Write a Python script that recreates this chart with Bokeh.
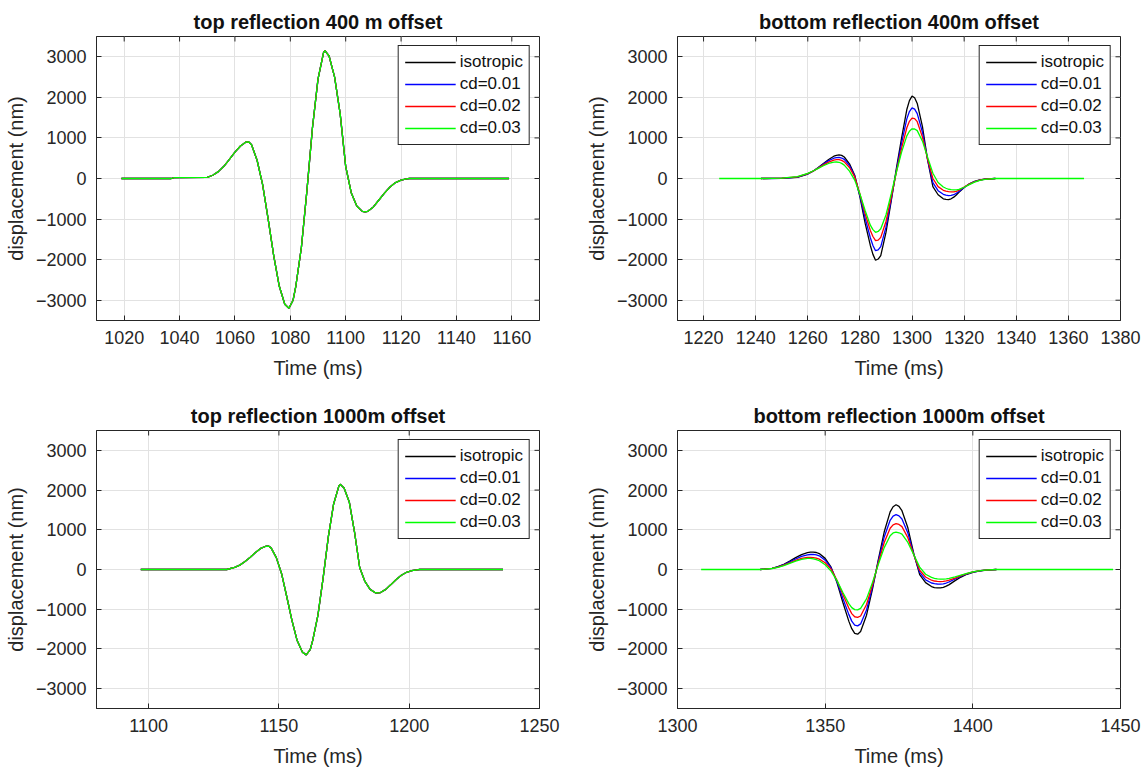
import math
from bokeh.plotting import figure
from bokeh.layouts import column, row
from bokeh.models import FixedTicker, Range1d, Legend, LegendItem
from bokeh.embed import file_html
from bokeh.resources import INLINE

# ---------------- data ----------------
series_labels = ["isotropic", "cd=0.01", "cd=0.02", "cd=0.03"]
series_colors = ["#000000", "#0000ff", "#ff0000", "#00ff00"]
y_ticks = [-3000, -2000, -1000, 0, 1000, 2000, 3000]
y_limits = [-3500, 3500]

# top reflection 400 m offset (all four traces coincide)
tl_title = "top reflection 400 m offset"
tl_xlim = [1010, 1170]
tl_xticks = [1020, 1040, 1060, 1080, 1100, 1120, 1140, 1160]
tl_time = [1019, 1037, 1038, 1050, 1052, 1054, 1056, 1058, 1060, 1062, 1064, 1065,
           1066, 1068, 1070, 1072, 1074, 1076, 1078, 1079.5, 1081, 1082, 1084, 1086,
           1088, 1090, 1092, 1092.5, 1094, 1096, 1098, 1100, 1102, 1104, 1106, 1107,
           1108, 1110, 1112, 1114, 1116, 1118, 1120, 1122, 1123, 1159]
tl_isotropic = [0, 0, 20, 30, 80, 170, 300, 470, 650, 800, 900, 900,
                830, 450, -150, -1000, -1900, -2650, -3100, -3200, -3000, -2650, -1700, -300,
                1250, 2450, 3100, 3150, 3020, 2500, 1600, 300, -350, -680, -810, -820,
                -810, -700, -530, -360, -210, -100, -40, -10, 0, 0]
tl_cd001 = tl_isotropic
tl_cd002 = tl_isotropic
tl_cd003 = tl_isotropic

# bottom reflection 400m offset
tr_title = "bottom reflection 400m offset"
tr_xlim = [1210, 1380]
tr_xticks = [1220, 1240, 1260, 1280, 1300, 1320, 1340, 1360, 1380]
tr_time = [1242, 1250, 1256, 1260, 1262, 1264, 1266, 1268, 1270, 1271, 1272, 1273, 1274,
           1276, 1278, 1280, 1282, 1284, 1285, 1286, 1287, 1288, 1290, 1292, 1294, 1296,
           1298, 1299, 1300, 1301, 1302, 1304, 1306, 1308, 1310, 1312, 1313, 1314, 1315,
           1316, 1317, 1318, 1320, 1322, 1324, 1326, 1328, 1332]
tr_isotropic = [0, 5, 30, 110, 180, 270, 370, 470, 550, 570, 580, 570, 530,
                360, 80, -450, -1100, -1650, -1870, -2015, -1985, -1900, -1330, -560, 250, 1000,
                1700, 1920, 2030, 1990, 1850, 1280, 450, -200, -400, -500, -515, -520, -500,
                -460, -405, -340, -220, -130, -70, -35, -15, 0]
tr_cd001 = [0, 5, 35, 115, 180, 265, 355, 440, 500, 515, 520, 505, 470,
            320, 60, -420, -980, -1460, -1650, -1780, -1760, -1680, -1200, -520, 200, 880,
            1470, 1650, 1740, 1710, 1600, 1140, 460, -100, -300, -390, -410, -420, -415,
            -400, -365, -320, -220, -135, -75, -38, -15, 0]
tr_cd002 = [0, 8, 40, 120, 180, 255, 335, 405, 455, 463, 465, 445, 410,
            270, 40, -380, -870, -1280, -1430, -1530, -1520, -1450, -1060, -470, 160, 750,
            1250, 1410, 1490, 1475, 1400, 1020, 470, 0, -200, -290, -310, -325, -330,
            -330, -315, -290, -210, -140, -80, -40, -18, 0]
tr_time_cd003 = [1226] + tr_time + [1366]
tr_cd003 = [0, 0, 10, 45, 125, 185, 250, 315, 370, 405, 407, 400, 372, 330,
            180, -40, -380, -790, -1150, -1260, -1325, -1305, -1240, -900, -380, 160, 650,
            1050, 1165, 1225, 1220, 1180, 920, 520, 130, -100, -210, -240, -265, -275,
            -280, -278, -270, -215, -150, -90, -45, -20, 0, 0]

# top reflection 1000m offset (all four traces coincide)
bl_title = "top reflection 1000m offset"
bl_xlim = [1080, 1250]
bl_xticks = [1100, 1150, 1200, 1250]
bl_time = [1097, 1130, 1133, 1135, 1137, 1139, 1141, 1143, 1145, 1146, 1147, 1149, 1151,
           1153, 1155, 1157, 1159, 1160.5, 1162, 1163, 1165, 1167, 1169, 1171, 1173, 1173.5,
           1175, 1177, 1179, 1181, 1183, 1185, 1187, 1188, 1189, 1191, 1193, 1195, 1197,
           1199, 1201, 1203, 1204, 1236]
bl_isotropic = [0, 0, 55, 110, 200, 310, 430, 530, 585, 590, 545, 300, -100,
                -680, -1280, -1790, -2080, -2150, -2020, -1780, -1140, -200, 840, 1650, 2100, 2145,
                2050, 1700, 950, 50, -300, -500, -585, -590, -580, -500, -380, -250, -145,
                -70, -30, -8, 0, 0]
bl_cd001 = bl_isotropic
bl_cd002 = bl_isotropic
bl_cd003 = bl_isotropic

# bottom reflection 1000m offset
br_title = "bottom reflection 1000m offset"
br_xlim = [1300, 1450]
br_xticks = [1300, 1350, 1400, 1450]
br_time = [1328, 1332, 1334, 1336, 1338, 1340, 1342, 1344, 1345, 1346, 1347, 1348, 1350,
           1352, 1354, 1356, 1358, 1359, 1360, 1361, 1362, 1364, 1366, 1368, 1370, 1372,
           1373, 1374, 1375, 1376, 1378, 1380, 1382, 1384, 1386, 1387, 1388, 1389, 1390,
           1391, 1392, 1394, 1396, 1398, 1400, 1402, 1404, 1408]
br_isotropic = [0, 30, 70, 130, 210, 300, 375, 425, 437, 440, 428, 400, 280,
                60, -330, -830, -1300, -1490, -1610, -1630, -1560, -1150, -500, 250, 950, 1450,
                1580, 1630, 1590, 1480, 1050, 400, -130, -330, -430, -455, -465, -462, -450,
                -420, -380, -280, -190, -120, -70, -40, -20, 0]
br_cd001 = [0, 30, 65, 120, 190, 265, 330, 370, 378, 380, 366, 345, 235,
            40, -300, -730, -1130, -1300, -1400, -1420, -1370, -1020, -450, 210, 820, 1240,
            1345, 1380, 1350, 1270, 920, 380, -70, -260, -340, -357, -365, -366, -360,
            -340, -310, -240, -170, -110, -65, -38, -18, 0]
br_cd002 = [0, 28, 60, 110, 170, 230, 280, 305, 306, 300, 284, 260, 170,
            10, -270, -630, -970, -1110, -1190, -1205, -1170, -880, -390, 170, 680, 1040,
            1125, 1155, 1135, 1080, 800, 370, -20, -190, -270, -290, -300, -303, -300,
            -288, -270, -215, -155, -105, -62, -35, -17, 0]
br_time_cd003 = [1308] + br_time + [1447.5]
br_cd003 = [0, 0, 25, 55, 100, 155, 210, 255, 280, 279, 270, 250, 220, 120,
            -40, -280, -580, -860, -960, -1010, -1015, -980, -740, -330, 130, 550, 850,
            920, 940, 925, 890, 680, 370, 60, -120, -200, -222, -235, -240, -240,
            -235, -225, -185, -140, -95, -58, -33, -15, 0, 0]

# ---------------- styling ----------------
FONT = "Liberation Sans"
TXT = "#262626"


def make_panel(title, xlim, xticks, curves, width, height, borders):
    left, right, top, bottom = borders
    p = figure(width=width, height=height,
               x_range=Range1d(*xlim), y_range=Range1d(*y_limits),
               output_backend="svg", toolbar_location=None, tools="",
               min_border_left=left, min_border_right=right,
               min_border_top=top, min_border_bottom=bottom,
               background_fill_color="white", border_fill_color="white",
               x_axis_label="Time (ms)", y_axis_label="displacement (nm)")
    p.title.text = title
    p.title.align = "center"
    p.title.text_font = FONT
    p.title.text_font_size = "20px"
    p.title.text_font_style = "bold"
    p.title.text_color = "#111111"
    p.title.standoff = 7

    p.outline_line_color = TXT
    p.outline_line_width = 1
    p.outline_line_alpha = 1

    p.xaxis.ticker = FixedTicker(ticks=xticks)
    p.yaxis.ticker = FixedTicker(ticks=y_ticks)
    for ax in list(p.below) + list(p.left):
        ax.axis_line_color = TXT
        ax.major_tick_in = 5
        ax.major_tick_out = 0
        ax.major_tick_line_color = TXT
        ax.minor_tick_line_color = None
        ax.major_label_text_font = FONT
        ax.major_label_text_font_size = "18px"
        ax.major_label_text_color = TXT
        ax.axis_label_text_font = FONT
        ax.axis_label_text_font_size = "20px"
        ax.axis_label_text_font_style = "normal"
        ax.axis_label_text_color = TXT
    p.xaxis.major_label_standoff = 10
    p.xaxis.axis_label_standoff = 10
    p.yaxis.major_label_standoff = 10
    p.yaxis.axis_label_standoff = 6

    # inward tick marks on the top and right edges of the box
    p.scatter(xticks, [y_limits[1]] * len(xticks), marker="dash", angle=math.pi / 2,
              size=10, line_color=TXT, line_width=1)
    p.scatter([xlim[1]] * len(y_ticks), y_ticks, marker="dash",
              size=10, line_color=TXT, line_width=1)

    p.xgrid.grid_line_color = "#e2e2e2"
    p.ygrid.grid_line_color = "#e2e2e2"

    items = []
    for (t, v), lab, col in zip(curves, series_labels, series_colors):
        r = p.line(t, v, line_color=col, line_width=1.3)
        items.append(LegendItem(label=lab, renderers=[r]))
    legend = Legend(items=items, location="top_right", margin=9,
                    border_line_color=TXT, border_line_width=1, border_line_alpha=1,
                    background_fill_color="white", background_fill_alpha=1,
                    label_text_font=FONT, label_text_font_size="17px", label_text_color="#111111",
                    glyph_width=51, glyph_height=20, label_height=20, label_standoff=4,
                    spacing=2, padding=6)
    p.add_layout(legend)
    return p


W1, W2 = 581, 563
H1, H2 = 394, 378
p_tl = make_panel(tl_title, tl_xlim, tl_xticks,
                  [(tl_time, tl_isotropic), (tl_time, tl_cd001), (tl_time, tl_cd002), (tl_time, tl_cd003)],
                  W1, H1, (96, 42, 36, 74))
p_tr = make_panel(tr_title, tr_xlim, tr_xticks,
                  [(tr_time, tr_isotropic), (tr_time, tr_cd001), (tr_time, tr_cd002), (tr_time_cd003, tr_cd003)],
                  W2, H1, (96, 24, 36, 74))
p_bl = make_panel(bl_title, bl_xlim, bl_xticks,
                  [(bl_time, bl_isotropic), (bl_time, bl_cd001), (bl_time, bl_cd002), (bl_time, bl_cd003)],
                  W1, H2, (96, 42, 36, 64))
p_br = make_panel(br_title, br_xlim, br_xticks,
                  [(br_time, br_isotropic), (br_time, br_cd001), (br_time, br_cd002), (br_time_cd003, br_cd003)],
                  W2, H2, (96, 24, 36, 64))

layout = column(row(p_tl, p_tr), row(p_bl, p_br))
open("out.html", "w").write(file_html(layout, INLINE))
